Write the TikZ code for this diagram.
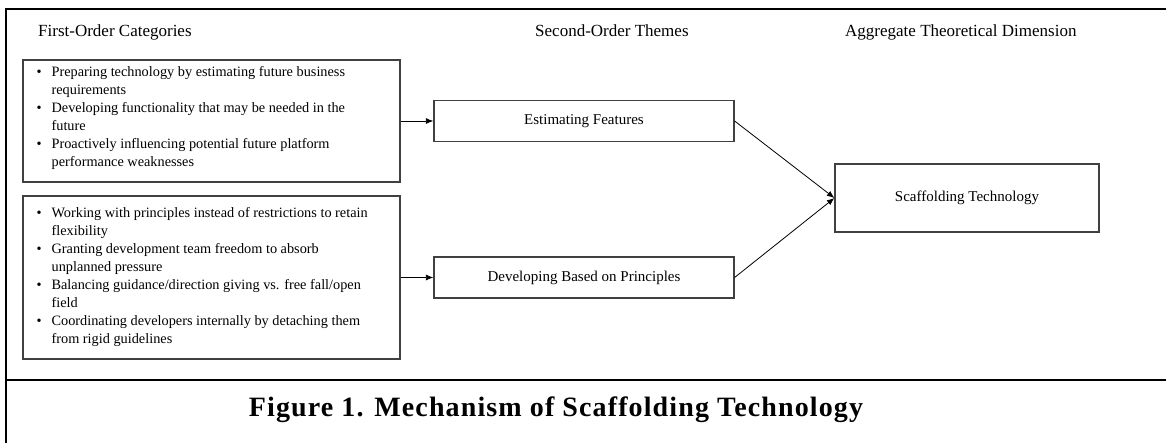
\documentclass[tikz,border=0pt]{standalone}
\usepackage{fontspec}
\setmainfont{Liberation Serif}
\usetikzlibrary{arrows.meta}
\definecolor{boxgray}{HTML}{404040}
\tikzset{
  catbox/.style={draw=boxgray, line width=1.2pt, minimum width=377pt, inner sep=0pt},
  themebox/.style={draw=boxgray, line width=1.2pt, minimum width=300pt, minimum height=41pt, inner sep=0pt, font=\fontsize{15}{18}\selectfont},
  dimbox/.style={draw=boxgray, line width=1.2pt, minimum width=264pt, minimum height=68pt, inner sep=0pt, font=\fontsize{15}{18}\selectfont},
  header/.style={inner sep=0pt, anchor=base west, font=\fontsize{17}{20}\selectfont},
  bullets/.style={inner sep=0pt, anchor=west, align=left, font=\fontsize{14.3}{18}\selectfont},
  conn/.style={line width=0.8pt, -{Latex[length=7.5pt,width=6pt]}},
  frame/.style={line width=2pt}
}
\newcommand{\bl}{\makebox[15pt][l]{\textbullet}}
\newcommand{\nb}{\makebox[15pt][l]{}}
\begin{document}
\begin{tikzpicture}[x=1pt,y=-1pt]
\useasboundingbox (0,0) rectangle (1166,442);
\draw[frame] (6,443) -- (6,9) -- (1167,9);
\draw[frame] (6,380) -- (1167,380);

\node[header] (h1) at (38,36) {First-Order Categories};
\node[header] (h2) at (535,36) {Second-Order Themes};
\node[header] (h3) at (845,36) {Aggregate Theoretical Dimension};

\node[catbox, minimum height=122pt] (c1) at (211.5,121) {};
\node[catbox, minimum height=163pt] (c2) at (211.5,277.5) {};

\node[bullets] (t1) at ([xshift=14pt,yshift=3pt]c1.west) {%
\bl Preparing technology by estimating future business\\
\nb requirements\\
\bl Developing functionality that may be needed in the\\
\nb future\\
\bl Proactively influencing potential future platform\\
\nb performance weaknesses};

\node[bullets] (t2) at ([xshift=14pt]c2.west) {%
\bl Working with principles instead of restrictions to retain\\
\nb flexibility\\
\bl Granting development team freedom to absorb\\
\nb unplanned pressure\\
\bl Balancing guidance/direction giving vs. free fall/open\\
\nb field\\
\bl Coordinating developers internally by detaching them\\
\nb from rigid guidelines};

\node[themebox] (ef) at (584,121) {Estimating Features};
\node[themebox] (dbp) at (584,277.5) {Developing Based on Principles};
\node[dimbox] (st) at (967,198) {Scaffolding Technology};

\draw[conn] (c1.east) -- (ef.west);
\draw[conn] (c2.east) -- (dbp.west);
\draw[conn] (ef.east) -- (st.west);
\draw[conn] (dbp.east) -- (st.west);

\node[inner sep=0pt, font=\fontsize{28}{32}\selectfont\bfseries\addfontfeatures{LetterSpace=4}] (cap) at (556,410) {Figure 1. Mechanism of Scaffolding Technology};
\end{tikzpicture}
\end{document}
